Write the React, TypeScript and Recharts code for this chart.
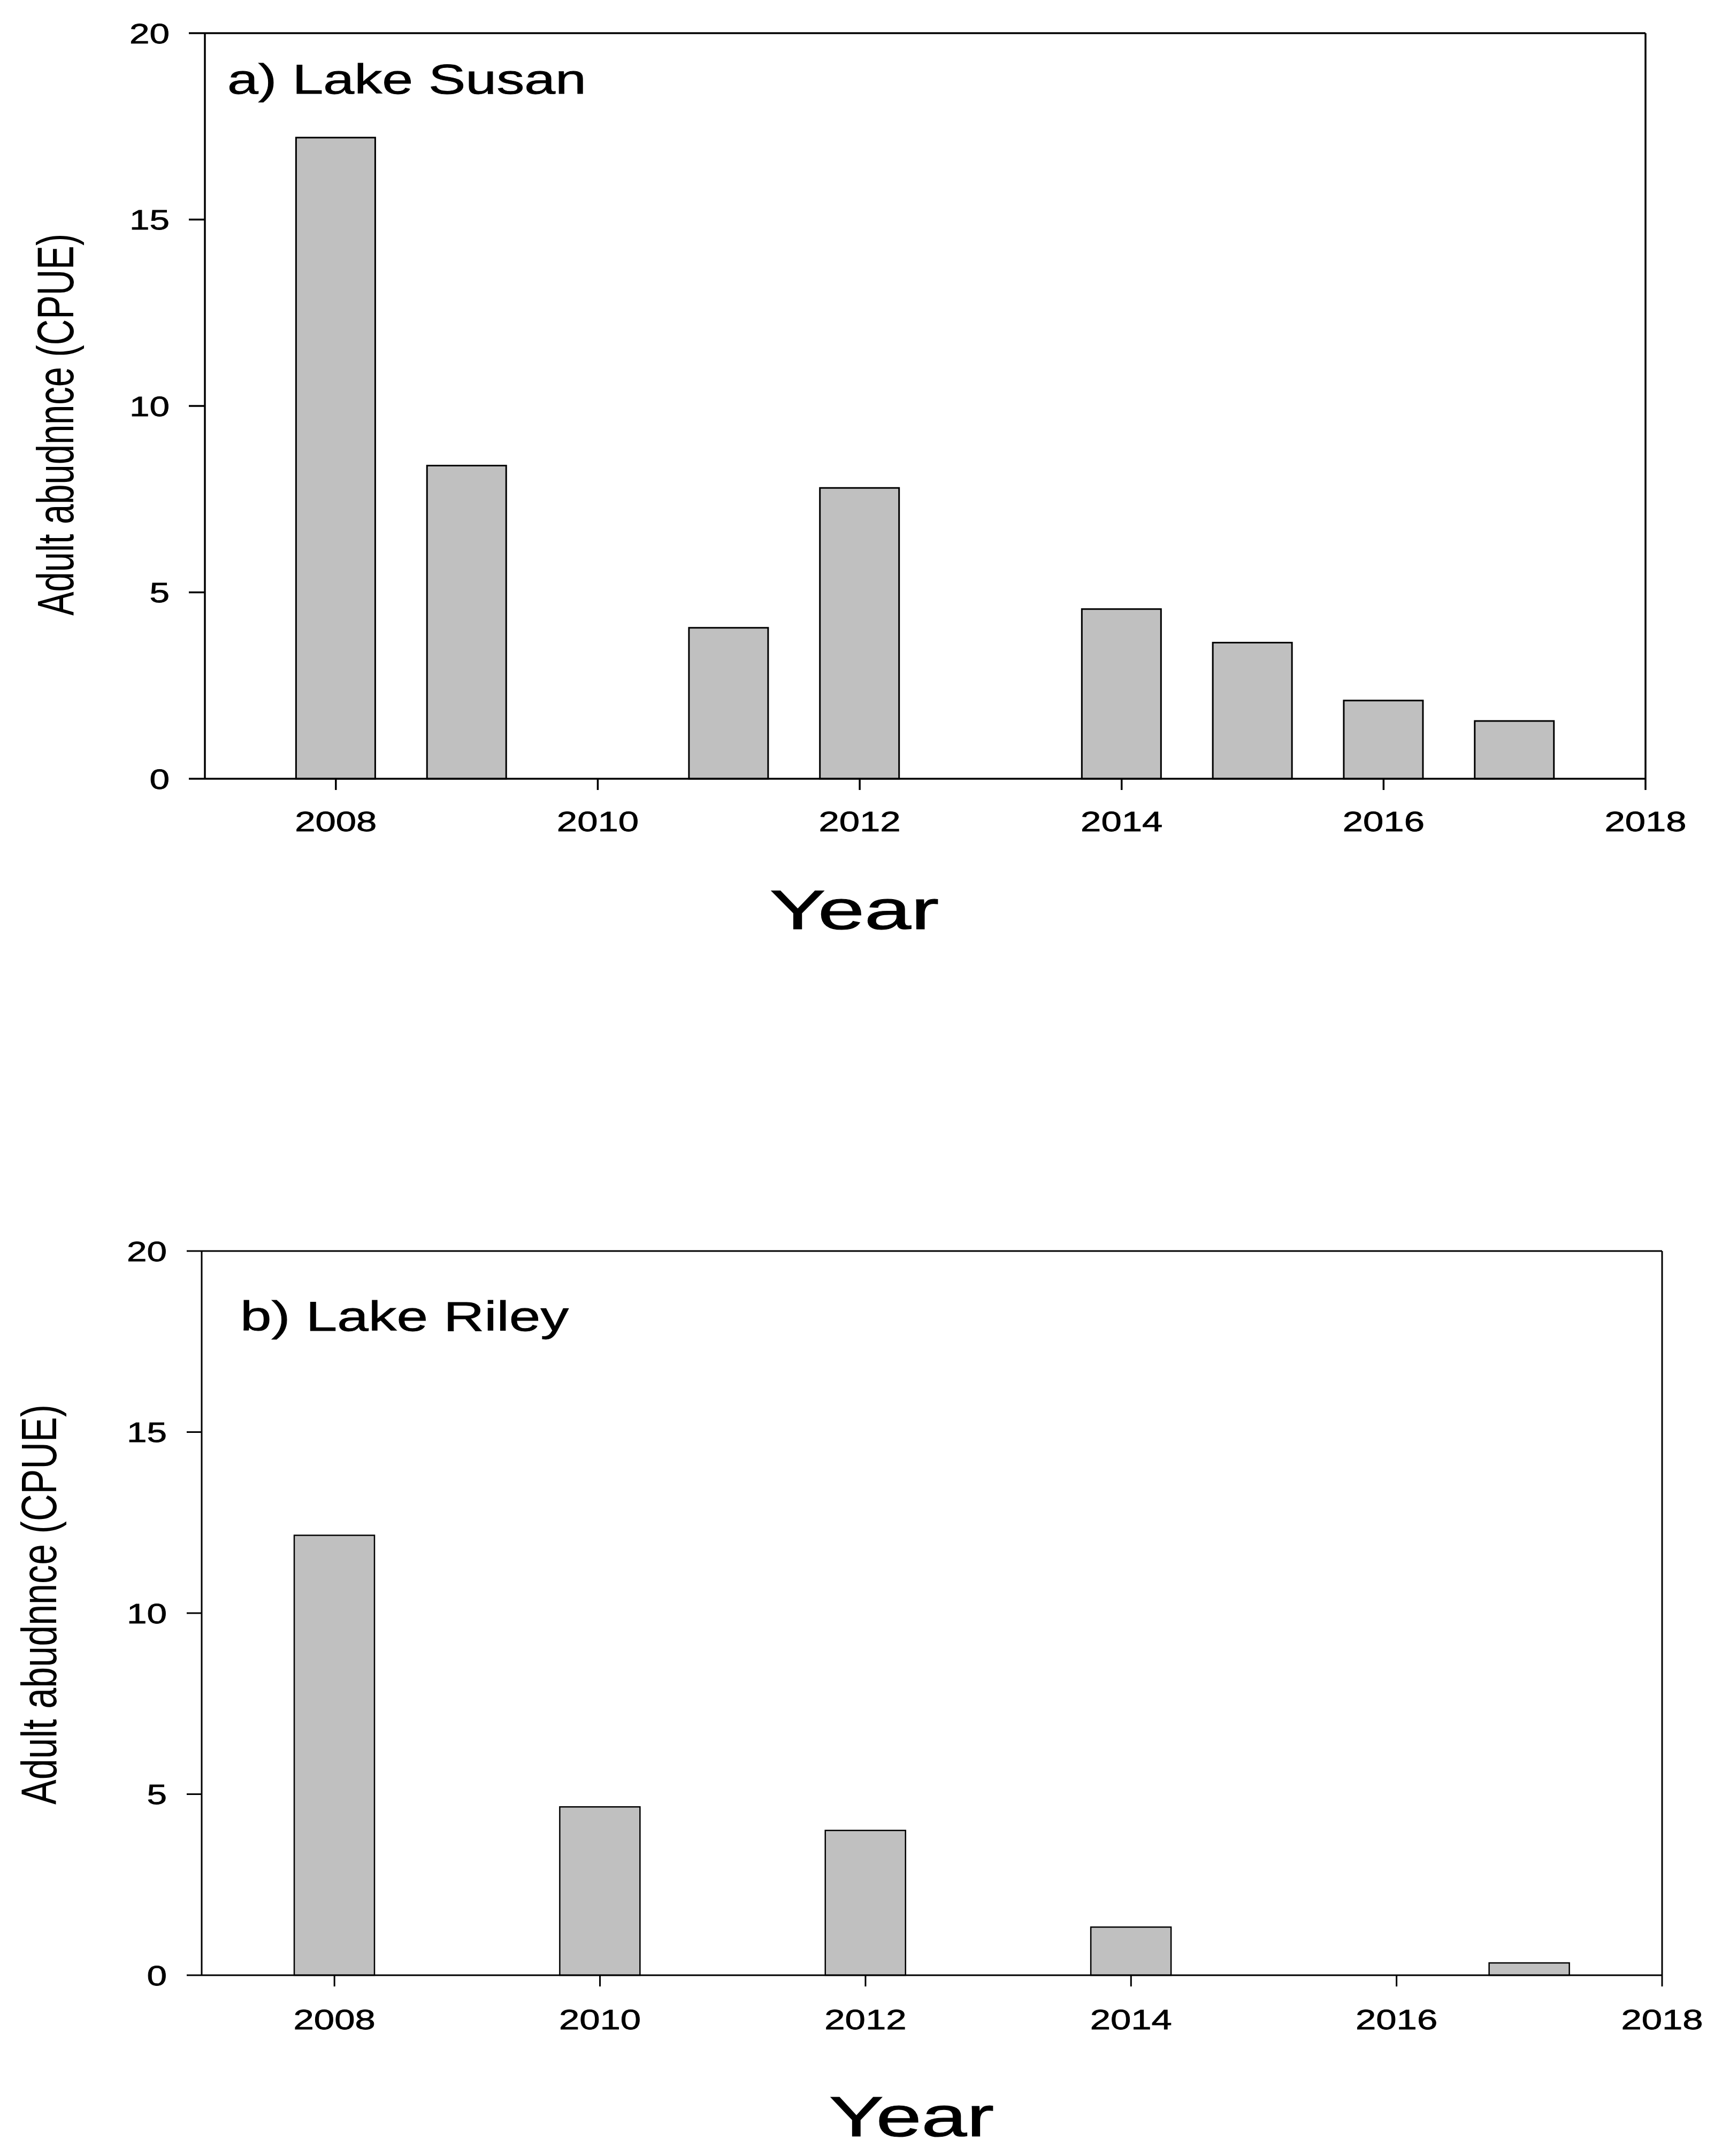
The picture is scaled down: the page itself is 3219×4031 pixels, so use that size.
import React from 'react';
import { BarChart, Bar, XAxis, YAxis, Label, ReferenceLine } from 'recharts';

// Lake Susan (panel a) – years sampled and adult CPUE
const susanYears = [2008, 2009, 2011, 2012, 2014, 2015, 2016, 2017];
const susanCpue = [17.2, 8.4, 4.05, 7.8, 4.55, 3.65, 2.1, 1.55];

// Lake Riley (panel b)
const rileyYears = [2008, 2010, 2012, 2014, 2017];
const rileyCpue = [12.15, 4.65, 4.0, 1.33, 0.34];

const xTicks = [2008, 2010, 2012, 2014, 2016, 2018];
const yTicks = [0, 5, 10, 15, 20];
const xDomain = [2007, 2018];
const yDomain = [0, 20];

const yLabel = 'Adult abudnnce (CPUE)';
const xLabel = 'Year';

const FONT = '"Liberation Sans", Arial, sans-serif';

const makeData = (years: number[], values: number[]) =>
  years.map((year, i) => ({ year, cpue: values[i] }));

const YTick = ({ x, y, payload }: any) => {
  const s = String(payload.value);
  return (
    <text
      x={x}
      y={y}
      dy="0.36em"
      textAnchor="end"
      fontSize={52}
      fontFamily={FONT}
      fill="#000"
      stroke="#000"
      strokeWidth={0.8}
      textLength={s.length * 37.5}
      lengthAdjust="spacingAndGlyphs"
    >
      {s}
    </text>
  );
};

const XTick = ({ x, y, payload }: any) => {
  const s = String(payload.value);
  return (
    <text
      x={x}
      y={y}
      dy="0.72em"
      textAnchor="middle"
      fontSize={52}
      fontFamily={FONT}
      fill="#000"
      stroke="#000"
      strokeWidth={0.8}
      textLength={s.length * 38.3}
      lengthAdjust="spacingAndGlyphs"
    >
      {s}
    </text>
  );
};

interface PanelProps {
  top: number;
  height: number;
  data: { year: number; cpue: number }[];
  plot: { left: number; right: number; top: number; bottom: number };
  stroke: number;
  barSize: number;
  ytick: { size: number; margin: number };
  xtick: { size: number; margin: number };
  title: { text: string; x: number; y: number; size: number; length: number };
  ylab: { x: number; y: number; size: number; length: number };
  xlab: { x: number; y: number; size: number; length: number };
}

function Panel(p: PanelProps) {
  const W = 3219;
  const axis = { stroke: '#000', strokeWidth: p.stroke };
  return (
    <div style={{ position: 'absolute', left: 0, top: p.top }}>
      <BarChart
        width={W}
        height={p.height}
        data={p.data}
        margin={{ top: p.plot.top, right: W - p.plot.right, left: 0, bottom: 0 }}
      >
        <XAxis
          dataKey="year"
          type="number"
          domain={xDomain}
          ticks={xTicks}
          interval={0}
          height={p.height - p.plot.bottom}
          axisLine={axis}
          tickLine={axis}
          tickSize={p.xtick.size}
          tickMargin={p.xtick.margin}
          tick={<XTick />}
        >
          <Label
            content={() => (
              <text
                x={p.xlab.x}
                y={p.xlab.y}
                textAnchor="middle"
                fontSize={p.xlab.size}
                fontFamily={FONT}
                fill="#000"
                stroke="#000"
                strokeWidth={1.2}
                textLength={p.xlab.length}
                lengthAdjust="spacingAndGlyphs"
              >
                {xLabel}
              </text>
            )}
          />
        </XAxis>
        <YAxis
          type="number"
          domain={yDomain}
          ticks={yTicks}
          interval={0}
          width={p.plot.left}
          axisLine={axis}
          tickLine={axis}
          tickSize={p.ytick.size}
          tickMargin={p.ytick.margin}
          tick={<YTick />}
        >
          <Label
            content={() => (
              <text
                x={p.ylab.x}
                y={p.ylab.y}
                transform={`rotate(-90 ${p.ylab.x} ${p.ylab.y})`}
                textAnchor="middle"
                fontSize={p.ylab.size}
                fontFamily={FONT}
                fill="#000"
                textLength={p.ylab.length}
                lengthAdjust="spacingAndGlyphs"
              >
                {yLabel}
              </text>
            )}
          />
          <Label
            content={() => (
              <text
                x={p.title.x}
                y={p.title.y}
                fontSize={p.title.size}
                fontFamily={FONT}
                fill="#000"
                stroke="#000"
                strokeWidth={0.8}
                textLength={p.title.length}
                lengthAdjust="spacingAndGlyphs"
              >
                {p.title.text}
              </text>
            )}
          />
        </YAxis>
        {/* frame: top and right edges of the plot box */}
        <ReferenceLine y={yDomain[1]} stroke="#000" strokeWidth={p.stroke} />
        <ReferenceLine x={xDomain[1]} stroke="#000" strokeWidth={p.stroke} />
        <Bar
          dataKey="cpue"
          fill="#c0c0c0"
          stroke="#000"
          strokeWidth={p.stroke - 0.5}
          barSize={p.barSize}
          isAnimationActive={false}
        />
      </BarChart>
    </div>
  );
}

export default function App() {
  return (
    <div
      style={{
        position: 'absolute',
        left: 0,
        top: 0,
        width: 3219,
        height: 4031,
        background: '#fff',
        overflow: 'hidden',
      }}
    >
      <Panel
        top={0}
        height={1800}
        data={makeData(susanYears, susanCpue)}
        plot={{ left: 383, right: 3076, top: 62, bottom: 1456 }}
        stroke={3.5}
        barSize={148}
        ytick={{ size: 30, margin: 36 }}
        xtick={{ size: 21, margin: 40 }}
        title={{ text: 'a) Lake Susan', x: 425, y: 175, size: 77, length: 671 }}
        ylab={{ x: 137, y: 794, size: 96, length: 714 }}
        xlab={{ x: 1597, y: 1737, size: 104, length: 316 }}
      />
      <Panel
        top={2250}
        height={1781}
        data={makeData(rileyYears, rileyCpue)}
        plot={{ left: 377, right: 3107, top: 89, bottom: 1443 }}
        stroke={3}
        barSize={150}
        ytick={{ size: 28, margin: 37 }}
        xtick={{ size: 21, margin: 43 }}
        title={{ text: 'b) Lake Riley', x: 449, y: 238, size: 77, length: 614 }}
        ylab={{ x: 105, y: 750, size: 92, length: 748 }}
        xlab={{ x: 1704, y: 1744, size: 106, length: 308 }}
      />
    </div>
  );
}
